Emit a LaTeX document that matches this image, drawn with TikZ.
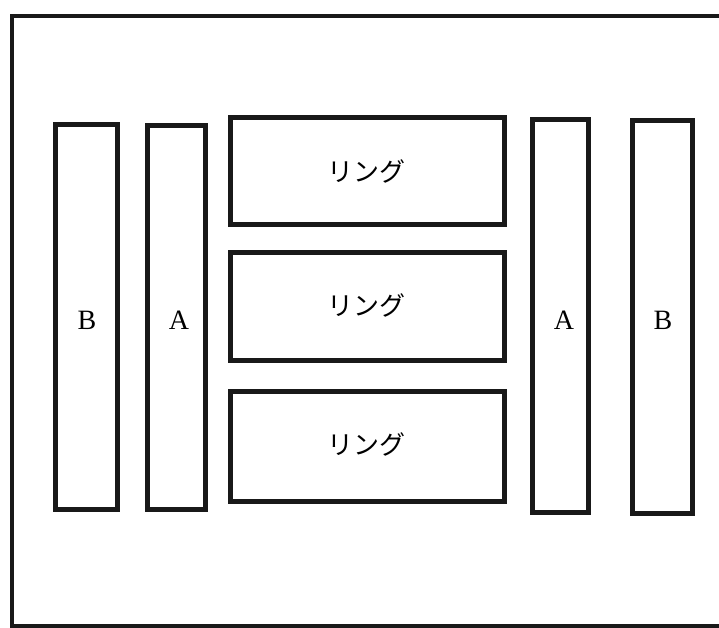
\documentclass[tikz,border=0pt]{standalone}
\usepackage{fontspec}
\setmainfont{Liberation Serif}
\newfontfamily\cjk{Noto Sans CJK JP}
\begin{document}
\begin{tikzpicture}[x=1pt,y=-1pt,
  bx/.style={draw=black!90, line width=5pt, inner sep=0pt},
  lbl/.style={font=\fontsize{28}{32}\selectfont},
  jlbl/.style={font=\cjk\fontsize{26}{30}\selectfont}]
\useasboundingbox (0,0) rectangle (719,628);
\draw[line width=4.5pt, black!90] (12,16) rectangle (730,626);
% left B
\draw[bx] (55,125) rectangle (117,509);
\node[lbl] (bl) at (87,320) {B};
% left A
\draw[bx] (147,126) rectangle (205,509);
\node[lbl] (al) at (179,320) {A};
% rings
\draw[bx] (230,118) rectangle (504,224);
\node[jlbl] (r1) at (366,171) {リング};
\draw[bx] (230,252) rectangle (504,360);
\node[jlbl] (r2) at (366,305) {リング};
\draw[bx] (230,391) rectangle (504,501);
\node[jlbl] (r3) at (366,444) {リング};
% right A
\draw[bx] (532,120) rectangle (588,512);
\node[lbl] (ar) at (564,320) {A};
% right B
\draw[bx] (632,121) rectangle (692,513);
\node[lbl] (br) at (663,320) {B};
\end{tikzpicture}
\end{document}
